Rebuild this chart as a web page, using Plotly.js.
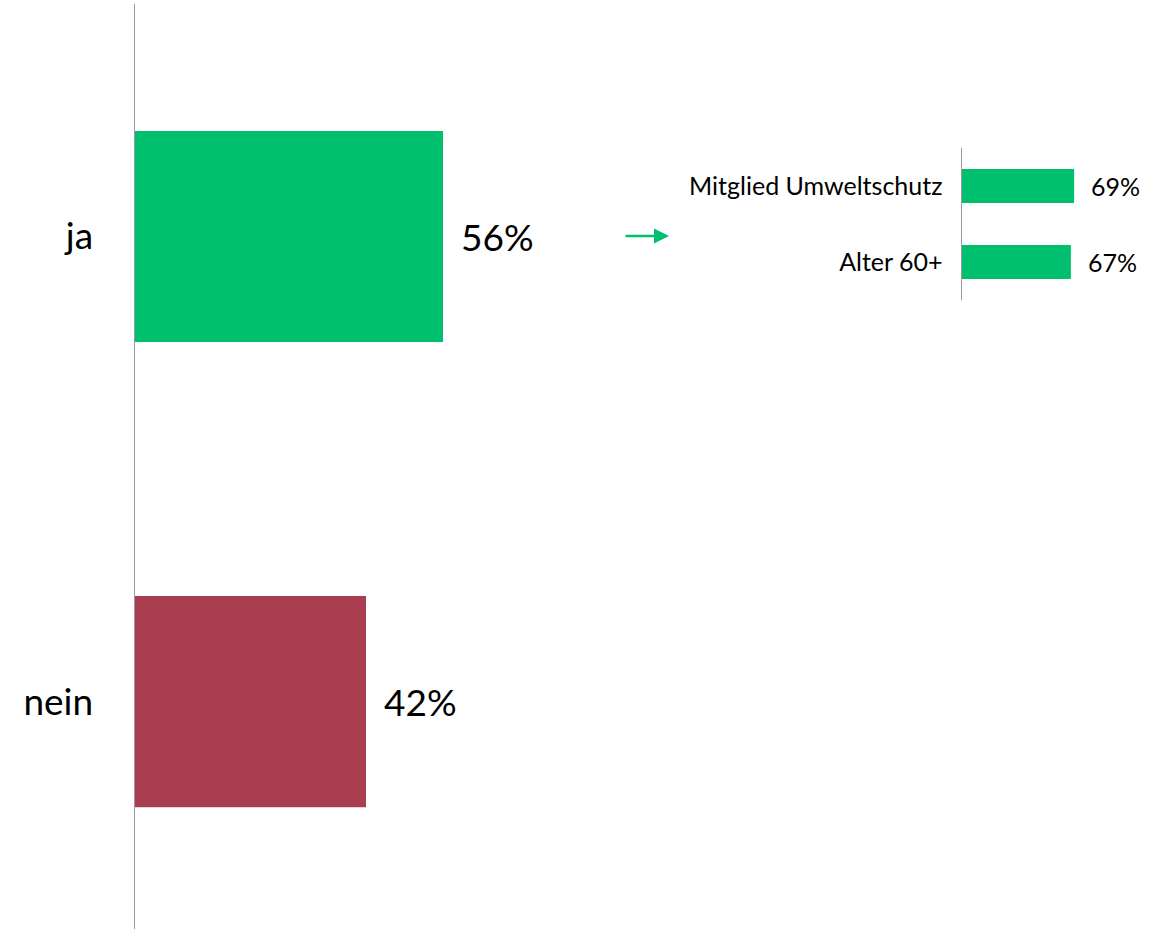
<!DOCTYPE html>
<html>
<head>
<meta charset="utf-8">
<script src="https://cdn.plot.ly/plotly-3.0.1.min.js"></script>
<style>html,body{margin:0;padding:0;background:#fff;}#chart{width:1171px;height:929px;}</style>
</head>
<body>
<div id="chart"></div>
<script>
// Main chart data
const mainCategories = ["ja", "nein"];
const mainValues = [56, 42];
const mainColors = ["#00BF6F", "#A83E50"];

// Inset data (subgroups for "ja")
const insetCategories = ["Mitglied Umweltschutz", "Alter 60+"];
const insetValues = [69, 67];
const insetColor = "#00BF6F";

const W = 1171, H = 929;
const FONT = "Lato, 'Open Sans', sans-serif";

const traces = [
  {
    type: "bar", orientation: "h",
    x: mainValues, y: mainCategories,
    marker: {color: mainColors},
    width: 0.454,
    xaxis: "x", yaxis: "y",
    hoverinfo: "none"
  },
  {
    type: "bar", orientation: "h",
    x: insetValues, y: insetCategories,
    marker: {color: insetColor},
    width: 0.447,
    xaxis: "x2", yaxis: "y2",
    hoverinfo: "none"
  }
];

const annotations = [];
mainValues.forEach((v, i) => annotations.push({
  xref: "x", yref: "y", x: v, y: mainCategories[i],
  text: v + "%", showarrow: false, xanchor: "left", xshift: 16,
  font: {family: FONT, size: 37, color: "#000"}
}));
insetValues.forEach((v, i) => annotations.push({
  xref: "x2", yref: "y2", x: v, y: insetCategories[i],
  text: v + "%", showarrow: false, xanchor: "left", xshift: 15,
  font: {family: FONT, size: 25, color: "#000"}
}));
// arrow pointing to the inset
annotations.push({
  xref: "paper", yref: "paper", x: 669 / W, y: 1 - 236 / H,
  ax: -45, ay: 0, axref: "pixel", ayref: "pixel",
  text: "", showarrow: true, arrowhead: 2, arrowsize: 1.2, arrowwidth: 2.5,
  arrowcolor: "#00BF6F"
});

const layout = {
  width: W, height: H,
  margin: {l: 0, r: 0, t: 0, b: 0},
  paper_bgcolor: "#fff", plot_bgcolor: "rgba(0,0,0,0)",
  showlegend: false,
  font: {family: FONT, color: "#000"},
  xaxis: {
    domain: [135 / W, 685 / W], range: [0, 100],
    visible: false, fixedrange: true
  },
  yaxis: {
    domain: [0, 1 - 4 / H],
    type: "category", categoryorder: "array", categoryarray: mainCategories,
    range: [1.489, -0.5],
    showline: true, linecolor: "#9a9a9a", linewidth: 1.5,
    showgrid: false, zeroline: false, ticks: "",
    ticklabelstandoff: 33,
    tickfont: {family: FONT, size: 37, color: "#000"},
    fixedrange: true
  },
  xaxis2: {
    domain: [962 / W, 1124.5 / W], range: [0, 100],
    anchor: "y2", visible: false, fixedrange: true
  },
  yaxis2: {
    domain: [1 - 300 / H, 1 - 148 / H], anchor: "x2",
    type: "category", categoryorder: "array", categoryarray: insetCategories,
    range: [1.5, -0.5],
    showline: true, linecolor: "#9a9a9a", linewidth: 1.5,
    showgrid: false, zeroline: false, ticks: "",
    ticklabelstandoff: 13,
    tickfont: {family: FONT, size: 25, color: "#000"},
    fixedrange: true
  },
  annotations: annotations
};

Plotly.newPlot("chart", traces, layout, {displayModeBar: false, staticPlot: true});
</script>
</body>
</html>
